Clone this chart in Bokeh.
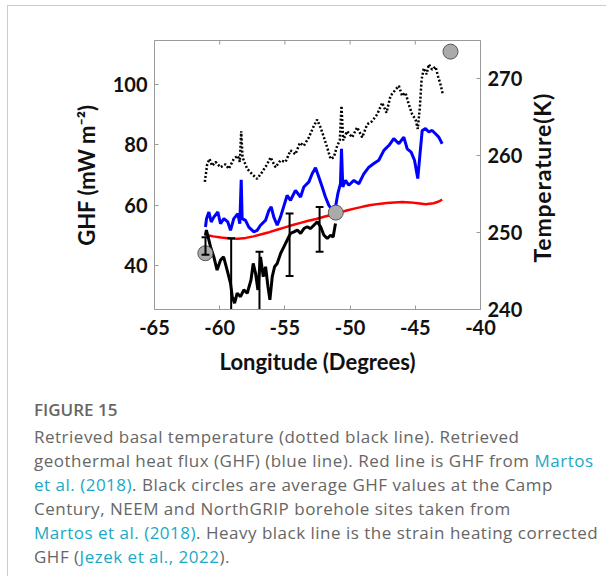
import math
from bokeh.plotting import figure
from bokeh.models import Range1d, LinearAxis, FixedTicker, Div
from bokeh.layouts import column, row
from bokeh.embed import file_html
from bokeh.resources import INLINE

# ---------------- data ----------------
x_ticks = [-65, -60, -55, -50, -45, -40]
ghf_ticks = [40, 60, 80, 100]
temp_ticks = [240, 250, 260, 270]

# Retrieved geothermal heat flux (blue)
blue_lon = [-61.09, -61.01, -60.83, -60.65, -60.45, -60.14, -59.94, -59.68, -59.38, -59.17,
            -58.92, -58.61, -58.46, -58.35, -58.28, -58.02, -57.77, -57.38, -57.13, -56.87,
            -56.49, -56.23, -56.05, -55.85, -55.59, -55.34, -54.83, -54.57, -54.19, -53.80,
            -53.55, -53.16, -52.91, -52.65, -52.40, -52.14, -51.89, -51.63, -51.38, -51.12,
            -50.94, -50.74, -50.66, -50.56, -50.35, -50.10, -49.71, -49.33, -48.95, -48.56,
            -48.18, -47.80, -47.41, -47.03, -46.65, -46.26, -45.88, -45.62, -45.32, -45.06,
            -44.81, -44.65, -44.47, -44.22, -43.96, -43.71, -43.45, -43.20, -42.94]
blue_ghf = [52.7, 55.5, 57.7, 54.4, 56.0, 57.7, 53.8, 55.5, 54.4, 51.6,
            55.5, 57.1, 53.8, 68.4, 55.5, 54.9, 52.7, 51.1, 51.6, 53.3,
            54.9, 58.2, 59.4, 56.0, 53.3, 56.0, 63.2, 61.6, 64.9, 62.7,
            66.0, 67.7, 70.4, 72.4, 69.3, 66.0, 62.7, 59.9, 58.5, 59.4,
            63.8, 67.1, 78.7, 66.0, 68.2, 66.6, 68.2, 67.1, 70.4, 72.6,
            73.8, 74.9, 78.2, 79.8, 82.1, 80.4, 82.6, 78.7, 77.6, 74.9,
            68.8, 76.5, 84.8, 85.4, 84.3, 84.8, 83.7, 82.6, 80.4]

# GHF from Martos et al. (2018) (red)
red_lon = [-61.17, -60.5, -59.9, -59.2, -58.6, -58.0, -57.4, -56.8, -56.2, -55.6,
           -55.0, -54.4, -53.8, -53.2, -52.6, -52.0, -51.4, -50.8, -50.2, -49.6,
           -49.0, -48.4, -47.8, -47.2, -46.6, -46.0, -45.4, -44.8, -44.2, -43.6,
           -43.2, -42.94]
red_ghf = [50.2, 49.6, 49.2, 48.9, 48.8, 49.1, 49.6, 50.3, 51.0, 51.8,
           52.6, 53.4, 54.1, 54.8, 55.4, 56.1, 56.8, 57.5, 58.3, 58.9,
           59.5, 60.0, 60.4, 60.7, 60.9, 61.0, 60.9, 60.6, 60.3, 60.6,
           61.2, 61.8]

# Strain-heating corrected GHF (heavy black)
black_lon = [-61.09, -61.02, -60.70, -60.45, -60.20, -59.94, -59.70, -59.43, -59.17, -59.04,
             -58.86, -58.66, -58.40, -58.15, -57.89, -57.60, -57.43, -57.25, -57.07, -56.87,
             -56.66, -56.48, -56.30, -56.15, -55.97, -55.79, -55.59, -55.33, -55.08, -54.82,
             -54.57, -54.31, -54.05, -53.80, -53.54, -53.29, -53.03, -52.78, -52.52, -52.26,
             -52.01, -51.75, -51.50, -51.30, -51.12]
black_ghf = [50.0, 51.7, 46.1, 42.8, 38.4, 41.7, 42.8, 38.4, 34.0, 29.6,
             27.4, 30.7, 29.6, 31.8, 30.7, 35.1, 40.6, 37.3, 31.8, 42.8,
             36.2, 39.5, 32.9, 28.5, 36.2, 39.5, 40.6, 43.9, 46.1, 48.4,
             50.6, 51.1, 51.7, 50.6, 52.2, 52.8, 52.2, 53.3, 54.4, 52.8,
             50.0, 48.9, 50.0, 49.4, 53.9]

# Error bars on the corrected GHF
eb_lon = [-61.09, -59.12, -56.95, -54.64, -52.34]
eb_top = [49.3, 49.0, 44.5, 57.2, 59.4]
eb_bot = [43.5, 20.0, 20.0, 36.4, 44.5]

# Borehole sites (Camp Century, NEEM, NorthGRIP)
site_lon = [-61.1, -51.1, -42.3]
site_ghf = [44.0, 57.5, 111.0]

# Retrieved basal temperature (dotted black, right axis)
temp_lon = [-61.14, -60.96, -60.78, -60.58, -60.32, -59.94, -59.56, -59.30, -58.92, -58.61,
            -58.46, -58.35, -58.25, -57.89, -57.51, -57.13, -56.74, -56.36, -56.10, -55.72,
            -55.34, -54.95, -54.57, -54.19, -53.85, -53.55, -53.16, -52.83, -52.53, -52.27,
            -52.01, -51.76, -51.50, -51.25, -50.99, -50.79, -50.66, -50.53, -50.23, -49.84,
            -49.46, -49.07, -48.69, -48.31, -47.92, -47.54, -47.21, -46.90, -46.52, -46.26,
            -46.01, -45.75, -45.50, -45.24, -44.98, -44.81, -44.65, -44.52, -44.35, -44.14,
            -43.96, -43.71, -43.45, -43.25, -43.07, -42.89]
temp_k = [256.6, 258.9, 259.6, 258.7, 259.2, 258.5, 258.9, 258.3, 259.6, 260.0,
          259.2, 263.2, 259.8, 258.3, 257.6, 257.0, 257.9, 258.9, 259.8, 258.5,
          259.4, 259.2, 260.7, 260.2, 261.7, 261.3, 262.4, 263.7, 264.7, 263.7,
          262.4, 261.1, 259.6, 259.8, 261.3, 262.0, 266.5, 262.0, 263.2, 262.4,
          263.7, 262.4, 264.1, 264.5, 265.4, 266.9, 265.6, 267.8, 268.6, 269.1,
          267.8, 268.2, 266.7, 265.4, 264.7, 263.5, 266.3, 269.9, 271.4, 270.6,
          271.9, 271.2, 271.6, 270.3, 269.3, 268.0]

right_title = "Temperature(K)"
caption_title = "FIGURE 15"
link = "#1ba8c5"
caption_lines = [
    "Retrieved basal temperature (dotted black line). Retrieved",
    f'geothermal heat flux (GHF) (blue line). Red line is GHF from <span style="color:{link}">Martos</span>',
    f'<span style="color:{link}">et al. (2018)</span>. Black circles are average GHF values at the Camp',
    "Century, NEEM and NorthGRIP borehole sites taken from",
    f'<span style="color:{link}">Martos et al. (2018)</span>. Heavy black line is the strain heating corrected',
    f'GHF (<span style="color:{link}">Jezek et al., 2022</span>).',
]

# ---------------- figure ----------------
FONT = "Lato"
frame_col = "#9a9a9a"
Y0, Y1 = 25.3, 114.7
W, H = 520, 392
BL, BR, BT, BB = 146, 48, 34, 89
LABEL_W = 28

p = figure(width=W, height=H, x_range=Range1d(-65, -40), y_range=Range1d(Y0, Y1),
           output_backend="svg", toolbar_location=None,
           min_border_left=BL, min_border_right=BR, min_border_top=BT, min_border_bottom=BB,
           background_fill_color="white", border_fill_color="white")
p.extra_y_ranges = {"temp": Range1d(240, 275)}
p.xgrid.visible = False
p.ygrid.visible = False
p.outline_line_color = frame_col
p.outline_line_width = 1

bottom_axis = p.below[0]
left_axis = p.left[0]
right_axis = LinearAxis(y_range_name="temp")
p.add_layout(right_axis, "right")

def style_axis(ax, ticks, label, standoff, label_standoff):
    ax.ticker = FixedTicker(ticks=ticks)
    ax.major_label_overrides = {t: str(t) for t in ticks}
    ax.major_tick_in = 4
    ax.major_tick_out = 0
    ax.minor_tick_line_color = None
    ax.major_tick_line_color = frame_col
    ax.axis_line_color = frame_col
    ax.major_label_text_font = FONT
    ax.major_label_text_font_style = "bold"
    ax.major_label_text_font_size = "20px"
    ax.major_label_text_color = "#111111"
    ax.major_label_standoff = standoff
    if label:
        ax.axis_label = label
        ax.axis_label_text_font = FONT
        ax.axis_label_text_font_style = "bold"
        ax.axis_label_text_font_size = "22px"
        ax.axis_label_text_color = "#111111"
        ax.axis_label_standoff = label_standoff

style_axis(bottom_axis, x_ticks, "Longitude (Degrees)", 10, 10)
style_axis(left_axis, ghf_ticks, "GHF (mW m\u207B\u00B2)", 7, 10)
style_axis(right_axis, temp_ticks, None, 7, 6)

# inward tick marks along the top edge of the frame
p.scatter(x_ticks[1:-1], [Y1] * (len(x_ticks) - 2), marker="dash", angle=math.pi / 2,
          size=8, line_color=frame_col, line_width=1)

# lines
p.line(temp_lon, temp_k, y_range_name="temp", line_color="black", line_width=2.5,
       line_dash="2 2")
p.line(blue_lon, blue_ghf, line_color="#0000ff", line_width=3)
p.line(red_lon, red_ghf, line_color="#ff0000", line_width=2.5)
p.line(black_lon, black_ghf, line_color="black", line_width=3)

# borehole sites
p.scatter(site_lon, site_ghf, size=15, fill_color="#aaaaaa", line_color="#555555", line_width=1)

# error bars
cap = 0.3
p.segment(eb_lon, eb_bot, eb_lon, eb_top, line_color="black", line_width=2)
p.segment([x - cap for x in eb_lon], eb_top, [x + cap for x in eb_lon], eb_top,
          line_color="black", line_width=2)
p.segment([x - cap for x in eb_lon], eb_bot, [x + cap for x in eb_lon], eb_bot,
          line_color="black", line_width=2)

# right-axis title (reads bottom to top), centred on the plot frame
frame_h = H - BT - BB
title_html = (f'<div style="margin-top:{BT + 3}px; height:{frame_h}px; width:{LABEL_W}px; '
              f'display:flex; align-items:center; justify-content:center;">'
              f'<span style="writing-mode:vertical-rl; transform:rotate(180deg); '
              f'font-family:Lato, sans-serif; font-weight:bold; font-size:23px; '
              f'letter-spacing:0.8px; color:#111111; white-space:nowrap;">{right_title}</span></div>')
right_div = Div(text=title_html, width=LABEL_W, height=H, margin=0)

# caption
body = "<br>".join(caption_lines)
html = (f'<div style="font-family: \'Open Sans\', sans-serif; color:#666666; padding-left:26px; '
        f'white-space:nowrap;">'
        f'<div style="font-size:17px; font-weight:600; line-height:24px;">{caption_title}</div>'
        f'<div style="font-size:17px; line-height:24px; margin-top:3px; letter-spacing:0.5px;">{body}</div></div>')
div = Div(text=html, width=598, height=178, margin=0, styles={"overflow": "hidden"})

layout = column(row(p, right_div, margin=0), div, margin=(5, 0, 0, 7),
                styles={"border-left": "1px solid #cccccc", "border-top": "1px solid #cccccc"})

open("out.html", "w").write(file_html(layout, INLINE))
